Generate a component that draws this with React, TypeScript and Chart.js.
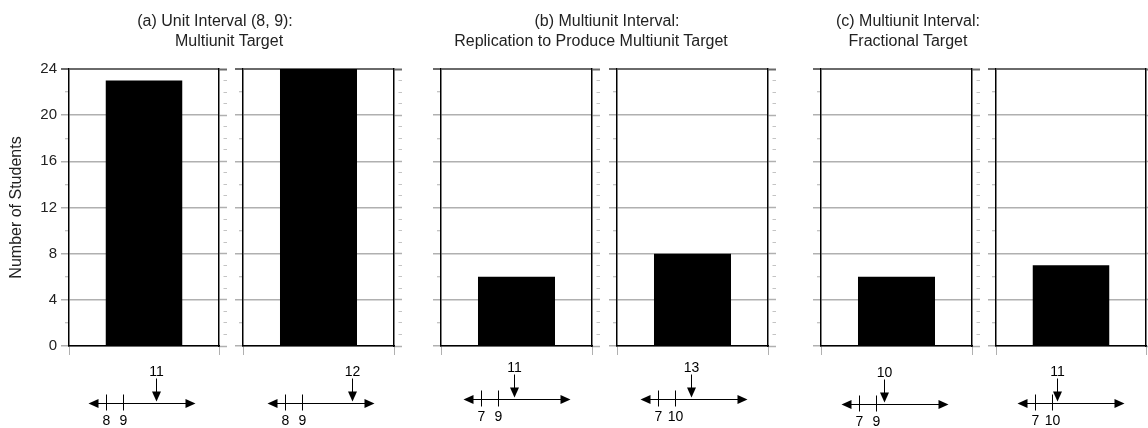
import React, { useEffect, useRef } from "react";
import { Chart, registerables } from "chart.js";

Chart.register(...registerables);

// ---------- data ----------
const panelIds = ["a1", "a2", "b1", "b2", "c1", "c2"];
const studentCounts = [23, 24, 6, 8, 6, 7];
const intervalStart = [8, 8, 7, 7, 7, 7];
const intervalEnd = [9, 9, 9, 10, 9, 10];
const targetValues = [11, 12, 11, 13, 10, 11];
const yMin = 0;
const yMax = 24;
const yLabelStep = 4;
const yAxisTitle = "Number of Students";
const titleLines = [
  ["(a) Unit Interval (8, 9):", "Multiunit Target"],
  ["(b) Multiunit Interval:", "Replication to Produce Multiunit Target"],
  ["(c) Multiunit Interval:", "Fractional Target"],
];

// ---------- layout ----------
const W = 1148;
const H = 428;
const panelLeft = [69, 243, 441, 617, 821, 996];
const panelRight = [219, 394, 592, 768, 972, 1146];
const plotTop = 69;
const plotBottom = 346;
const nlStartOffset = [37, 42, 40, 41, 38, 39]; // px from panel left to interval start tick
const nlIntervalPx = 16.7;
const nlLineY = [403, 403, 399, 399, 404, 403];
const titleCenters = [
  [215, 229],
  [607, 591],
  [908, 908],
];
const FONT = '"Liberation Sans", Arial, Helvetica, sans-serif';
const GRID = "#b0b0b0";
const TOPLINE = "#6a6a6a";

function makeConfig(i: number): any {
  const first = i === 0;
  const yWidth = first ? 62 : 12;
  const rWidth = 2;
  const xHeight = 10;
  const a = intervalStart[i];
  const b = intervalEnd[i];
  const unit = (b - a) / nlIntervalPx;
  const areaW = panelRight[i] - panelLeft[i];
  const nlMin = a - nlStartOffset[i] * unit;
  const nlMax = nlMin + areaW * unit;

  const numberLine = {
    id: "numberLine" + i,
    afterDraw(chart: any) {
      const ctx = chart.ctx;
      const s = chart.scales.nl;
      const xa = Math.round(s.getPixelForValue(a)) + 0.5;
      const xb = Math.round(s.getPixelForValue(b)) + 0.5;
      const xt = Math.round(s.getPixelForValue(targetValues[i])) + 0.5;
      const y = nlLineY[i] + 0.5;
      const x0 = xa - 18;
      const x1 = xa + 89;
      ctx.save();
      ctx.strokeStyle = "#000";
      ctx.fillStyle = "#000";
      ctx.lineWidth = 1;
      // main line
      ctx.beginPath();
      ctx.moveTo(x0 + 5, y);
      ctx.lineTo(x1 - 5, y);
      ctx.stroke();
      // arrow heads
      ctx.beginPath();
      ctx.moveTo(x0, y);
      ctx.lineTo(x0 + 10, y - 4.5);
      ctx.lineTo(x0 + 10, y + 4.5);
      ctx.closePath();
      ctx.fill();
      ctx.beginPath();
      ctx.moveTo(x1, y);
      ctx.lineTo(x1 - 10, y - 4.5);
      ctx.lineTo(x1 - 10, y + 4.5);
      ctx.closePath();
      ctx.fill();
      // interval ticks
      [xa, xb].forEach((x) => {
        ctx.beginPath();
        ctx.moveTo(x, y - 9);
        ctx.lineTo(x, y + 7);
        ctx.stroke();
      });
      ctx.font = "14px " + FONT;
      ctx.textAlign = "center";
      ctx.textBaseline = "middle";
      ctx.fillText(String(a), xa, y + 18);
      ctx.fillText(String(b), xb, y + 18);
      // target arrow
      ctx.beginPath();
      ctx.moveTo(xt, y - 25);
      ctx.lineTo(xt, y - 9);
      ctx.stroke();
      ctx.beginPath();
      ctx.moveTo(xt, y - 2);
      ctx.lineTo(xt - 4.5, y - 12);
      ctx.lineTo(xt + 4.5, y - 12);
      ctx.closePath();
      ctx.fill();
      ctx.fillText(String(targetValues[i]), xt, y - 31);
      ctx.restore();
    },
  };

  return {
    type: "bar",
    data: {
      labels: [panelIds[i]],
      datasets: [
        {
          data: [studentCounts[i]],
          backgroundColor: "#000",
          borderWidth: 0,
          barPercentage: 1,
          categoryPercentage: 0.51,
          yAxisID: "y",
          xAxisID: "x",
        },
      ],
    },
    options: {
      responsive: false,
      animation: false,
      events: [],
      layout: {
        padding: {
          left: panelLeft[i] - yWidth,
          right: W - panelRight[i] - rWidth,
          top: plotTop,
          bottom: H - plotBottom - xHeight,
        },
      },
      plugins: {
        legend: { display: false },
        tooltip: { enabled: false },
        title: { display: false },
      },
      scales: {
        x: {
          type: "category",
          position: "bottom",
          afterFit(s: any) {
            s.height = xHeight;
          },
          ticks: { display: false },
          grid: {
            offset: true,
            drawOnChartArea: false,
            tickLength: 9,
            tickColor: GRID,
            lineWidth: 1,
          },
          border: { display: true, color: "#000", width: 1.5 },
        },
        nl: {
          type: "linear",
          axis: "x",
          position: "bottom",
          display: true,
          offset: false,
          bounds: "data",
          beginAtZero: false,
          grace: 0,
          min: nlMin,
          max: nlMax,
          afterFit(s: any) {
            s.height = 0;
          },
          ticks: { display: false },
          grid: { display: false, drawTicks: false, offset: false },
          border: { display: false },
        },
        y: {
          type: "linear",
          position: "left",
          min: yMin,
          max: yMax,
          afterFit(s: any) {
            s.width = yWidth;
          },
          ticks: {
            display: first,
            stepSize: yLabelStep / 2,
            padding: 4,
            color: "#222",
            font: { family: FONT, size: 15 },
            callback: (v: any) => (Number(v) % yLabelStep === 0 ? String(v) : ""),
          },
          title: {
            display: first,
            text: yAxisTitle,
            color: "#222",
            font: { family: FONT, size: 16 },
            padding: { top: 0, bottom: 0 },
          },
          grid: {
            drawOnChartArea: true,
            tickLength: 8,
            color: (c: any) => {
              const v = c.tick ? c.tick.value : 0;
              if (v % yLabelStep !== 0) return "rgba(0,0,0,0)";
              return v === yMax ? TOPLINE : GRID;
            },
            lineWidth: (c: any) => {
              const v = c.tick ? c.tick.value : 0;
              return v === yMax ? 2 : 1.5;
            },
            tickColor: (c: any) => {
              const v = c.tick ? c.tick.value : 0;
              return v === yMax ? TOPLINE : GRID;
            },
            tickWidth: (c: any) => {
              const v = c.tick ? c.tick.value : 0;
              if (v === yMax) return 2;
              return v % yLabelStep === 0 ? 1.5 : 1;
            },
            tickBorderDash: (c: any) => {
              const v = c.tick ? c.tick.value : 0;
              return v % yLabelStep === 0 ? [] : [0, 4, 4, 100];
            },
          },
          border: { display: true, color: "#000", width: 1.5 },
        },
        yr: {
          type: "linear",
          position: "right",
          min: yMin,
          max: yMax,
          afterFit(s: any) {
            s.width = rWidth;
          },
          ticks: { display: false, stepSize: 1 },
          grid: {
            drawOnChartArea: false,
            tickLength: 8,
            tickColor: (c: any) => {
              const v = c.tick ? c.tick.value : 0;
              if (v === yMax) return TOPLINE;
              return v % yLabelStep === 0 ? GRID : "#c4c4c4";
            },
            tickWidth: (c: any) => {
              const v = c.tick ? c.tick.value : 0;
              if (v === yMax) return 2;
              return v % yLabelStep === 0 ? 1.5 : 1;
            },
            tickBorderDash: (c: any) => {
              const v = c.tick ? c.tick.value : 0;
              return v % yLabelStep === 0 ? [] : [0, 4, 4, 100];
            },
          },
          border: { display: true, color: "#000", width: 1.5 },
        },
      },
    },
    plugins: [numberLine],
  };
}

function Panel({ index }: { index: number }) {
  const ref = useRef<HTMLCanvasElement | null>(null);
  useEffect(() => {
    if (!ref.current) return;
    const chart = new Chart(ref.current, makeConfig(index));
    return () => chart.destroy();
  }, [index]);
  return (
    <canvas
      ref={ref}
      width={W}
      height={H}
      style={{ position: "absolute", left: 0, top: 0, width: W, height: H }}
    />
  );
}

export default function App() {
  return (
    <div
      style={{
        position: "absolute",
        left: 0,
        top: 0,
        width: W,
        height: H,
        background: "#fff",
        fontFamily: FONT,
        color: "#222",
        overflow: "hidden",
      }}
    >
      {panelIds.map((id, i) => (
        <Panel key={id} index={i} />
      ))}
      {titleLines.map((lines, g) =>
        lines.map((t, k) => (
          <div
            key={g + "-" + k}
            style={{
              position: "absolute",
              left: titleCenters[g][k],
              top: 11 + k * 20,
              transform: "translateX(-50%)",
              whiteSpace: "nowrap",
              fontSize: 16,
              lineHeight: "20px",
            }}
          >
            {t}
          </div>
        ))
      )}
    </div>
  );
}
